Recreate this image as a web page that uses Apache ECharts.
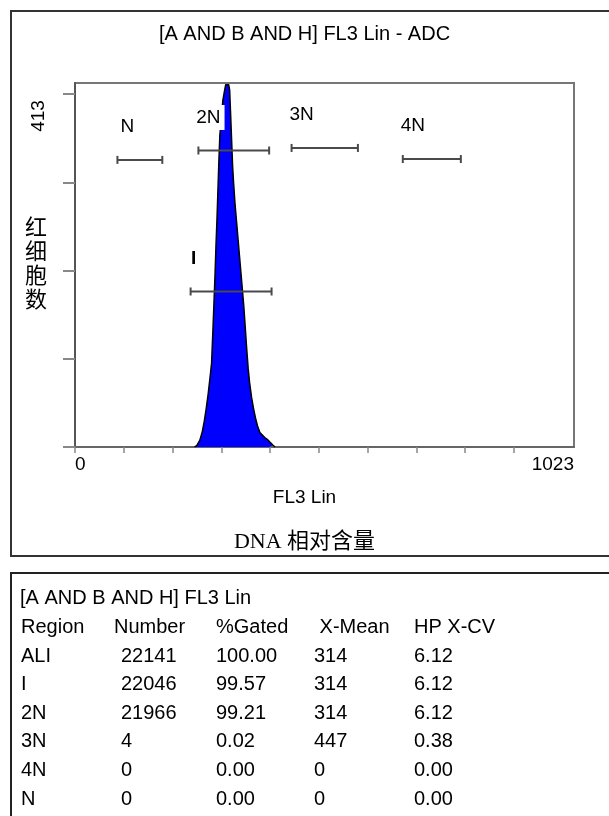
<!DOCTYPE html>
<html>
<head>
<meta charset="utf-8">
<script src="https://cdn.jsdelivr.net/npm/echarts@6/dist/echarts.min.js"></script>
<style>
  html, body { margin: 0; padding: 0; background: #fff; }
  #chart { width: 609px; height: 816px; }
</style>
</head>
<body>
<div id="chart"></div>
<script>
/* ========== FL3 Lin 直方图 + 区域统计表 ========== */

// 直方图：通道 / 细胞数
const channels = [245, 250, 256, 261, 265, 269, 273, 277, 280, 283, 285, 287, 289, 291, 293, 295, 297, 300,
    303, 306, 309, 311, 313, 315, 317, 319, 321, 323, 325, 328, 331, 334, 337, 340, 343, 346, 349, 352,
    355, 358, 362, 366, 370, 374, 379, 384, 389, 394, 399, 403, 406, 410];
const counts = [0, 2, 8, 18, 30, 45, 62, 82, 98, 140, 170, 200, 235, 265, 300, 335, 365, 385,
    405, 415, 424, 426, 426, 424, 418, 390, 360, 330, 310, 285, 265, 245, 225, 205, 185, 165, 140, 115,
    92, 75, 58, 45, 34, 25, 17, 14, 11, 9, 6, 4, 2, 0];

// 区域标记 (通道范围 + 高度)
const regionNames = ["N", "2N", "I", "3N", "4N"];
const regionStart = [87, 253, 237, 444, 672];
const regionEnd = [179, 398, 403, 580, 791];
const regionLevel = [336, 347, 182, 350, 337];

// 坐标轴刻度
const xTicks = [0, 100, 200, 300, 400, 500, 600, 700, 800, 900];
const xLabels = [0, 1023];
const yTicks = [0, 103.25, 206.5, 309.75, 413];
const yLabels = [413];

// 统计表
const tableTitle = "[A AND B AND H] FL3 Lin";
const tableHeader = ["Region", "Number", "%Gated", " X-Mean", "HP X-CV"];
const rowRegion = ["ALI", "I", "2N", "3N", "4N", "N"];
const rowNumber = ["22141", "22046", "21966", "4", "0", "0"];
const rowGated = ["100.00", "99.57", "99.21", "0.02", "0.00", "0.00"];
const rowMean = ["314", "314", "314", "447", "0", "0"];
const rowCV = ["6.12", "6.12", "6.12", "0.38", "0.00", "0.00"];

const FONT = '"Liberation Sans", Arial, sans-serif';
const chart = echarts.init(document.getElementById("chart"));

function tableGraphics() {
    const colX = [21, 118, 216, 314, 414];
    const items = [];
    const text = (x, y, s) => items.push({
        type: "text", x, y,
        style: { text: s, font: `20px ${FONT}`, fill: "#000", textVerticalAlign: "middle" },
    });
    text(20, 598, tableTitle);
    tableHeader.forEach((h, i) => text(colX[i] - (i === 1 ? 4 : 0), 627, h));
    rowRegion.forEach((r, k) => {
        const y = 656 + k * 28.6;
        [r, rowNumber[k], rowGated[k], rowMean[k], rowCV[k]].forEach((v, i) => {
            text(colX[i] + (i === 1 ? 3 : 0), y, v);
        });
    });
    return items;
}

chart.setOption({
    animation: false,
    title: [
        { text: "[A AND B AND H] FL3 Lin - ADC", left: "center", top: 19,
          textStyle: { fontFamily: FONT, fontSize: 20, fontWeight: "normal", color: "#000" } },
        { text: "FL3 Lin", left: "center", top: 483,
          textStyle: { fontFamily: FONT, fontSize: 19, fontWeight: "normal", color: "#000" } },
        { text: "DNA 相对含量", left: "center", top: 526,
          textStyle: { fontFamily: '"Liberation Serif", "Noto Sans CJK SC", serif', fontSize: 22,
                       fontWeight: "normal", color: "#000" } },
    ],
    grid: { left: 75, right: 35, top: 83, bottom: 369, show: true, borderColor: "#777", borderWidth: 2 },
    xAxis: {
        type: "value", min: 0, max: 1023,
        axisLine: { lineStyle: { color: "#666", width: 2 } },
        axisTick: { customValues: xTicks, length: 6, lineStyle: { color: "#888", width: 1.5 } },
        axisLabel: { customValues: xLabels, formatter: v => String(v), margin: 8, color: "#000",
                     fontFamily: FONT, fontSize: 19, alignMinLabel: "left", alignMaxLabel: "right" },
        splitLine: { show: false },
    },
    yAxis: {
        type: "value", min: 0, max: 426,
        axisLine: { show: true, lineStyle: { color: "#555", width: 2 } },
        axisTick: { customValues: yTicks, length: 12, lineStyle: { color: "#888", width: 2 } },
        axisLabel: { customValues: yLabels, formatter: v => String(v), rotate: 90, align: "right",
                     padding: [0, 6, 0, 0], margin: 27, color: "#000", fontFamily: FONT, fontSize: 19 },
        splitLine: { show: false },
    },
    series: [
        {
            type: "line",
            data: channels.map((c, i) => [c, counts[i]]),
            symbol: "none",
            lineStyle: { color: "#000", width: 1.5 },
            areaStyle: { color: "#0000ff", opacity: 1 },
            z: 2,
        },
        {
            type: "custom",
            data: regionNames.map((n, i) => [regionStart[i], regionEnd[i], regionLevel[i]]),
            z: 5,
            renderItem(params, api) {
                const a = api.coord([api.value(0), api.value(2)]);
                const b = api.coord([api.value(1), api.value(2)]);
                const name = regionNames[params.dataIndex];
                const st = { stroke: "#4a4a4a", lineWidth: 2 };
                return {
                    type: "group",
                    children: [
                        { type: "line", shape: { x1: a[0], y1: a[1], x2: b[0], y2: b[1] }, style: st },
                        { type: "line", shape: { x1: a[0], y1: a[1] - 4, x2: a[0], y2: a[1] + 4 }, style: st },
                        { type: "line", shape: { x1: b[0], y1: b[1] - 4, x2: b[0], y2: b[1] + 4 }, style: st },
                        {
                            type: "text", x: a[0] + (name === "I" ? 3 : 10), y: a[1] - 33,
                            style: {
                                text: name, fill: "#000",
                                font: `${name === "I" ? "bold " : ""}19px ${FONT}`,
                                textAlign: "center", textVerticalAlign: "middle",
                                backgroundColor: name === "2N" ? "#fff" : null,
                                padding: name === "2N" ? [3, 4] : 0,
                            },
                        },
                    ],
                };
            },
        },
    ],
    graphic: [
        { type: "rect", shape: { x: 11, y: 11, width: 620, height: 545 },
          style: { fill: null, stroke: "#333", lineWidth: 2 }, z: 10 },
        { type: "rect", shape: { x: 11, y: 573, width: 620, height: 300 },
          style: { fill: null, stroke: "#222", lineWidth: 2 }, z: 10 },
        { type: "text", x: 36, y: 263,
          style: { text: "红\n细\n胞\n数", font: '22px "Noto Sans CJK SC"', lineHeight: 24,
                   fill: "#000", textAlign: "center", textVerticalAlign: "middle" } },
        ...tableGraphics(),
    ],
});
</script>
</body>
</html>
